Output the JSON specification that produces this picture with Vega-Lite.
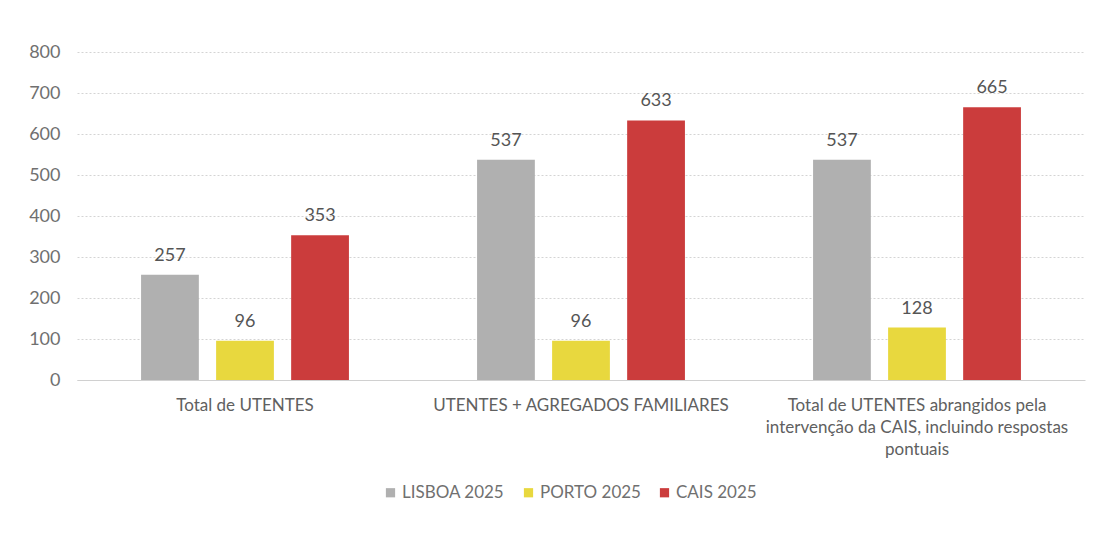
{
  "$schema": "https://vega.github.io/schema/vega-lite/v6.json",
  "width": 1008,
  "height": 328,
  "autosize": {"type": "none"},
  "padding": {"left": 77, "top": 52, "right": 19, "bottom": 153},
  "background": "white",
  "config": {
    "font": "Lato",
    "view": {"stroke": null},
    "axis": {"labelFont": "Lato", "labelColor": "#595959"},
    "legend": {"labelFont": "Lato"}
  },
  "data": {
    "values": [
      {"categoria": "Total de UTENTES", "serie": "LISBOA 2025", "valor": 257},
      {"categoria": "Total de UTENTES", "serie": "PORTO 2025", "valor": 96},
      {"categoria": "Total de UTENTES", "serie": "CAIS 2025", "valor": 353},
      {"categoria": "UTENTES + AGREGADOS FAMILIARES", "serie": "LISBOA 2025", "valor": 537},
      {"categoria": "UTENTES + AGREGADOS FAMILIARES", "serie": "PORTO 2025", "valor": 96},
      {"categoria": "UTENTES + AGREGADOS FAMILIARES", "serie": "CAIS 2025", "valor": 633},
      {"categoria": "Total de UTENTES abrangidos pela|intervenção da CAIS, incluindo respostas|pontuais", "serie": "LISBOA 2025", "valor": 537},
      {"categoria": "Total de UTENTES abrangidos pela|intervenção da CAIS, incluindo respostas|pontuais", "serie": "PORTO 2025", "valor": 128},
      {"categoria": "Total de UTENTES abrangidos pela|intervenção da CAIS, incluindo respostas|pontuais", "serie": "CAIS 2025", "valor": 665}
    ]
  },
  "encoding": {
    "x": {
      "field": "categoria",
      "type": "nominal",
      "sort": null,
      "scale": {"paddingInner": 0.33, "paddingOuter": 0.165},
      "axis": {
        "title": null,
        "labelAngle": 0,
        "labelExpr": "split(datum.label, '|')",
        "labelFontSize": 17,
        "labelColor": "#606060",
        "labelLineHeight": 22,
        "labelLimit": 400,
        "labelPadding": 17,
        "labelBaseline": "top",
        "ticks": false,
        "domain": true,
        "domainColor": "#d0d0d0",
        "domainWidth": 1,
        "grid": false
      }
    },
    "xOffset": {
      "field": "serie",
      "type": "nominal",
      "sort": ["LISBOA 2025", "PORTO 2025", "CAIS 2025"],
      "scale": {"paddingInner": 0.23, "paddingOuter": 0.115}
    },
    "y": {
      "field": "valor",
      "type": "quantitative",
      "scale": {"domain": [0, 800], "nice": false},
      "axis": {
        "title": null,
        "values": [0, 100, 200, 300, 400, 500, 600, 700, 800],
        "labelFontSize": 18,
        "labelColor": "#707070",
        "labelPadding": 17,
        "ticks": false,
        "domain": false,
        "grid": true,
        "gridColor": "#d4d4d4",
        "gridDash": [2, 2],
        "gridWidth": 1
      }
    }
  },
  "layer": [
    {
      "mark": {"type": "bar"},
      "encoding": {
        "color": {
          "field": "serie",
          "type": "nominal",
          "sort": ["LISBOA 2025", "PORTO 2025", "CAIS 2025"],
          "scale": {
            "domain": ["LISBOA 2025", "PORTO 2025", "CAIS 2025"],
            "range": ["#b0b0b0", "#e8d83e", "#cb3c3c"]
          },
          "legend": {
            "title": null,
            "orient": "none",
            "legendX": 305,
            "legendY": 432,
            "padding": 0,
            "direction": "horizontal",
            "symbolType": "square",
            "symbolSize": 85,
            "symbolStrokeWidth": 0,
            "labelFontSize": 17,
            "labelColor": "#707070",
            "columnPadding": 15,
            "labelOffset": 3
          }
        }
      }
    },
    {
      "mark": {"type": "text", "baseline": "alphabetic", "dy": -14, "fontSize": 18, "color": "#555555", "font": "Lato"},
      "encoding": {
        "text": {"field": "valor", "type": "quantitative"}
      }
    }
  ]
}
